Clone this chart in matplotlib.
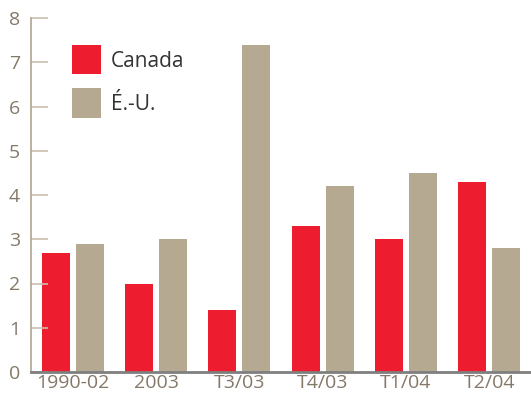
import numpy as np
import matplotlib
matplotlib.use("Agg")
from matplotlib import pyplot as plt

plt.rcParams["font.family"] = ["Open Sans", "DejaVu Sans"]

categories = ["1990-02", "2003", "T3/03", "T4/03", "T1/04", "T2/04"]
canada = [2.7, 2.0, 1.4, 3.3, 3.0, 4.3]
usa = [2.9, 3.0, 7.4, 4.2, 4.5, 2.8]

red = "#ED1C2E"
tan = "#B5A992"
label_col = "#857868"

fig = plt.figure(figsize=(5.31, 3.96), dpi=100)
ax = fig.add_axes([31 / 531, 24 / 396, 1 - 31 / 531, 354 / 396])

x = np.arange(len(categories))
w = 0.336
ax.bar(x - 0.204, canada, w, color=red, label="Canada")
ax.bar(x + 0.204, usa, w, color=tan, label="É.-U.")

ax.set_xlim(-0.5, 5.5)
ax.set_ylim(0, 8)
ax.set_yticks(range(0, 9))
ax.set_xticks(x)
ax.set_xticklabels(categories)

for s in ["top", "right"]:
    ax.spines[s].set_visible(False)
ax.spines["left"].set_color("#B0A48F")
ax.spines["left"].set_linewidth(1.2)
ax.spines["bottom"].set_color("#7F7F7F")
ax.spines["bottom"].set_linewidth(2)

ax.tick_params(axis="y", direction="in", length=12, width=1.2, color="#C9BFAE",
               labelsize=14, labelcolor=label_col, pad=8)
ax.tick_params(axis="x", length=0, labelsize=14, labelcolor=label_col, pad=1.5)

leg = ax.legend(loc="upper left", bbox_to_anchor=(62 / 531, 1 - 35 / 396),
                bbox_transform=fig.transFigure, frameon=False, borderpad=0,
                handlelength=1.39, handleheight=1.77, labelspacing=0.67,
                handletextpad=0.45, fontsize=15)
for t in leg.get_texts():
    t.set_color("#333333")

fig.savefig("out.png", dpi=100)
